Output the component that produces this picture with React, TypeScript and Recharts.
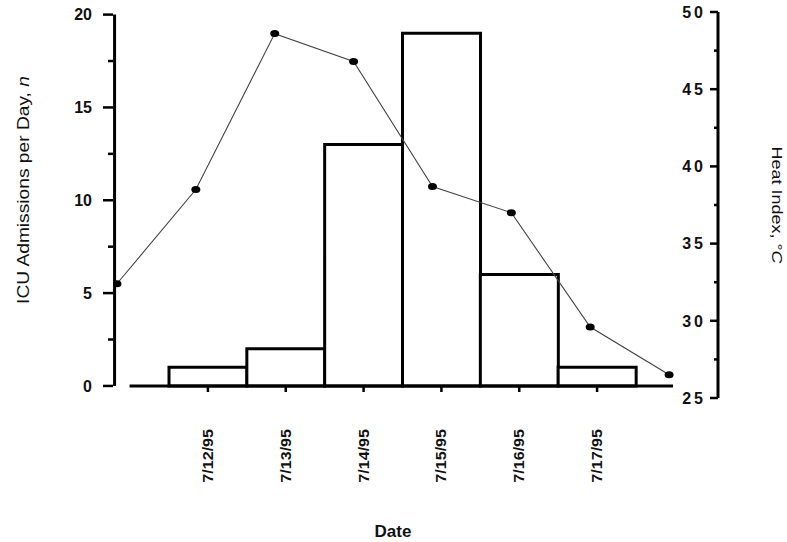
import React from 'react';
import { ComposedChart, Bar, Line, XAxis, YAxis, ReferenceLine } from 'recharts';

// ---- data ----
const dates = ['7/12/95', '7/13/95', '7/14/95', '7/15/95', '7/16/95', '7/17/95'];
const icuAdmissions = [1, 2, 13, 19, 6, 1];
const heatDays = [11, 12, 13, 14, 15, 16, 17, 18];
const heatIndex = [32.4, 38.5, 48.6, 46.8, 38.7, 37.0, 29.6, 26.5];
const leftTicks = [0, 2.5, 5, 7.5, 10, 12.5, 15, 17.5, 20];
const rightTicks = [25, 27.5, 30, 32.5, 35, 37.5, 40, 42.5, 45, 47.5, 50];

const barData = dates.map((date, i) => ({ date, icu: icuAdmissions[i] }));
const lineData = heatDays.map((day, i) => ({ day, heat: heatIndex[i] }));

// axis configuration
const DAY_DOMAIN: [number, number] = [10.95, 18.62];
const LEFT_DOMAIN: [number, number] = [-0.65, 20.14];
const RIGHT_DOMAIN: [number, number] = [25, 50];
const LEFT_AXIS_AT = 10.97;
const BASELINE_FROM = 11.16;
const BASELINE_TO = 18.05;

const FONT = "'Liberation Sans', Arial, Helvetica, sans-serif";

const LeftTick = (props: any) => {
  const { x, y, payload } = props;
  const major = payload.value % 5 === 0;
  const len = major ? 10 : 5;
  return (
    <g>
      <rect x={x - len} y={y - 1.25} width={len} height={2.5} fill="#000" />
      {major && (
        <text x={x - 21} y={y} dy="0.36em" textAnchor="end" fontFamily={FONT} fontSize={16} fontWeight="bold" fill="#111">
          {payload.value}
        </text>
      )}
    </g>
  );
};

const RightTick = (props: any) => {
  const { x, y, payload } = props;
  const major = payload.value % 5 === 0;
  const len = major ? 8 : 4;
  return (
    <g>
      <rect x={x - len} y={y - 1.25} width={len} height={2.5} fill="#000" />
      {major && (
        <text x={x - 12} y={y} dy="0.36em" textAnchor="end" fontFamily={FONT} fontSize={16} fontWeight="bold" letterSpacing={3} fill="#111">
          {payload.value}
        </text>
      )}
    </g>
  );
};

const XTick = (props: any) => {
  const { x, y, payload } = props;
  return (
    <g>
      <rect x={x - 1.25} y={y - 11} width={2.5} height={5} fill="#000" />
      <text
        transform={`translate(${x}, ${y + 31}) rotate(-90) scale(1.15, 1)`}
        x={0}
        y={0}
        dy="0.36em"
        textAnchor="end"
        fontFamily={FONT}
        fontSize={14}
        fontWeight="bold"
        fill="#111"
      >
        {payload.value}
      </text>
    </g>
  );
};

const renderDot = (p: any) => (
  <ellipse key={`d-${p.index}`} cx={p.cx} cy={p.cy} rx={4.5} ry={3.5} fill="#000" />
);

export default function App() {
  return (
    <div style={{ position: 'absolute', left: 0, top: 0, background: '#fff' }}>
      <ComposedChart
        width={787}
        height={542}
        data={barData}
        margin={{ top: 12, right: 0, bottom: 0, left: 0 }}
        barCategoryGap={0}
        barGap={0}
      >
        <XAxis
          xAxisId="cat"
          dataKey="date"
          padding={{ left: 56, right: 82 }}
          axisLine={false}
          tickLine={false}
          tickSize={0}
          tickMargin={0}
          tick={<XTick />}
          height={144}
          interval={0}
        />
        <XAxis
          xAxisId="num"
          type="number"
          dataKey="day"
          domain={DAY_DOMAIN}
          allowDataOverflow
          hide
        />
        <YAxis
          yAxisId="left"
          orientation="left"
          domain={LEFT_DOMAIN}
          ticks={leftTicks}
          allowDataOverflow
          interval={0}
          axisLine={false}
          tickLine={false}
          tickSize={0}
          tickMargin={0}
          tick={<LeftTick />}
          width={113}
        />
        <YAxis
          yAxisId="right"
          orientation="right"
          domain={RIGHT_DOMAIN}
          ticks={rightTicks}
          allowDataOverflow
          interval={0}
          axisLine={{ stroke: '#000', strokeWidth: 3 }}
          tickLine={false}
          tickSize={0}
          tickMargin={0}
          tick={<RightTick />}
          width={69}
        />
        <Bar
          xAxisId="cat"
          yAxisId="left"
          dataKey="icu"
          fill="#fff"
          stroke="#000"
          strokeWidth={3}
          isAnimationActive={false}
        />
        <ReferenceLine
          xAxisId="num"
          yAxisId="left"
          segment={[{ x: LEFT_AXIS_AT, y: 0 }, { x: LEFT_AXIS_AT, y: 20 }]}
          stroke="#000"
          strokeWidth={3}
          ifOverflow="visible"
        />
        <ReferenceLine
          xAxisId="num"
          yAxisId="left"
          segment={[{ x: BASELINE_FROM, y: 0 }, { x: BASELINE_TO, y: 0 }]}
          stroke="#000"
          strokeWidth={3}
          ifOverflow="visible"
        />
        <Line
          xAxisId="num"
          yAxisId="right"
          data={lineData}
          dataKey="heat"
          stroke="#444"
          strokeWidth={1.1}
          dot={renderDot}
          activeDot={false}
          isAnimationActive={false}
        />
        <text
          transform="translate(23, 190) rotate(-90) scale(1.2, 1)"
          textAnchor="middle"
          dy="0.36em"
          fontFamily={FONT}
          fontSize={16}
          fill="#111"
        >
          ICU Admissions per Day, <tspan fontStyle="italic">n</tspan>
        </text>
        <text
          transform="translate(777, 205) rotate(90) scale(1.2, 1)"
          textAnchor="middle"
          dy="0.36em"
          fontFamily={FONT}
          fontSize={15}
          fill="#111"
        >
          Heat Index, °<tspan fontStyle="italic">C</tspan>
        </text>
        <text x={393} y={531} dy="0.36em" textAnchor="middle" fontFamily={FONT} fontSize={17} fontWeight="bold" fill="#111">
          Date
        </text>
      </ComposedChart>
    </div>
  );
}
